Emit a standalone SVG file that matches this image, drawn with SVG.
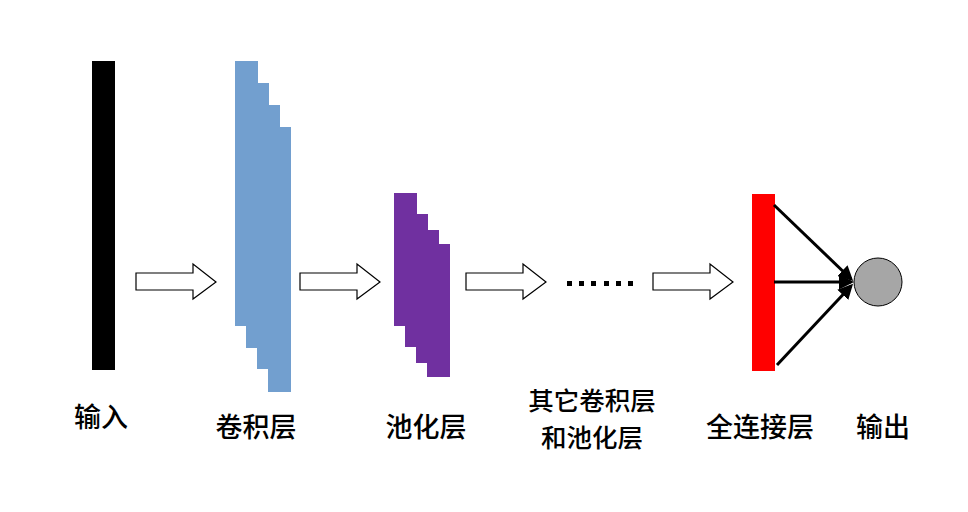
<svg xmlns="http://www.w3.org/2000/svg" width="968" height="512" viewBox="0 0 968 512">
<style>
.lbl{font-family:"Noto Sans CJK SC","Noto Sans",sans-serif;font-size:27px;font-weight:500;fill:#000;text-anchor:middle}
.sm{font-size:25.5px}
.arr{fill:#fff;stroke:#000;stroke-width:1.2}
.conv{fill:#729fcf}
.pool{fill:#7030a0}
.ln{stroke:#000;stroke-width:3;fill:none}
</style>
<defs>
<marker id="ah" markerWidth="5" markerHeight="5" refX="4" refY="2.5" orient="auto" markerUnits="strokeWidth">
<path d="M0,0 L5,2.5 L0,5 Z" fill="#000"/>
</marker>
</defs>
<rect width="968" height="512" fill="#fff"/>
<g id="input">
<rect x="92" y="61" width="23" height="309" fill="#000"/>
<text class="lbl" x="101" y="427">输入</text>
</g>
<g id="conv">
<rect class="conv" x="235" y="61" width="23" height="265"/>
<rect class="conv" x="246" y="83" width="23" height="265"/>
<rect class="conv" x="257" y="105" width="23" height="264"/>
<rect class="conv" x="268" y="127" width="23" height="265"/>
<text class="lbl" x="256" y="437">卷积层</text>
</g>
<g id="pool">
<rect class="pool" x="394" y="193" width="23" height="133"/>
<rect class="pool" x="405" y="214" width="23" height="133"/>
<rect class="pool" x="416" y="230" width="23" height="133"/>
<rect class="pool" x="427" y="244" width="23" height="133"/>
<text class="lbl" x="426" y="437">池化层</text>
</g>
<g id="others">
<rect x="567" y="281" width="5" height="5"/>
<rect x="579" y="281" width="5" height="5"/>
<rect x="591" y="281" width="5" height="5"/>
<rect x="604" y="281" width="5" height="5"/>
<rect x="616" y="281" width="5" height="5"/>
<rect x="628" y="281" width="5" height="5"/>
<text class="lbl sm" x="592" y="410">其它卷积层</text>
<text class="lbl sm" x="592" y="447">和池化层</text>
</g>
<g id="fc">
<rect x="752" y="194" width="23" height="177" fill="#f00"/>
<text class="lbl" x="760" y="437">全连接层</text>
</g>
<g id="output">
<circle cx="878" cy="282" r="24" fill="#a6a6a6" stroke="#000" stroke-width="1"/>
<text class="lbl" x="883" y="437">输出</text>
</g>
<g id="connectors">
<path class="arr" d="M136,273 H193 V264 L216,282 L193,299 V290 H136 Z"/>
<path class="arr" d="M300,273 H357 V264 L380,282 L357,299 V290 H300 Z"/>
<path class="arr" d="M466,273 H523 V264 L546,282 L523,299 V290 H466 Z"/>
<path class="arr" d="M653,273 H710 V264 L733,282 L710,299 V290 H653 Z"/>
<line class="ln" x1="774" y1="205" x2="851" y2="279" marker-end="url(#ah)"/>
<line class="ln" x1="774" y1="282" x2="851" y2="282" marker-end="url(#ah)"/>
<line class="ln" x1="777" y1="365" x2="851" y2="286" marker-end="url(#ah)"/>
</g>
</svg>
